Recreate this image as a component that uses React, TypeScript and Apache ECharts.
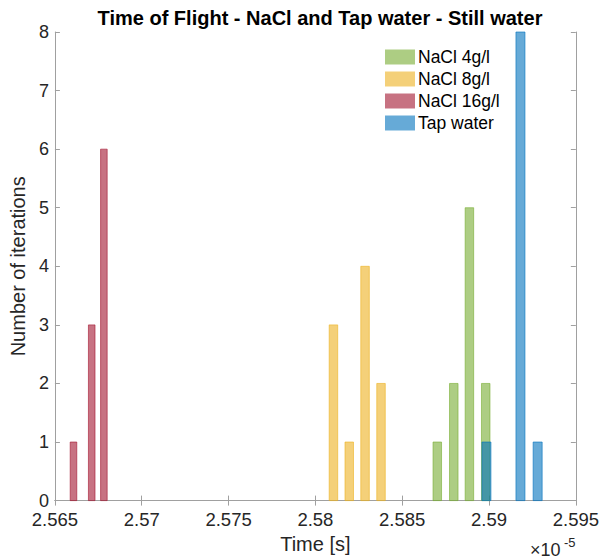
import React, { useEffect, useRef } from "react";
import * as echarts from "echarts";

// Time values are in units of 1e-5 s
const seriesNames = ["NaCl 4g/l", "NaCl 8g/l", "NaCl 16g/l", "Tap water"];
const nacl4Time = [2.58702, 2.58797, 2.58887, 2.58981];
const nacl4Count = [1, 2, 5, 2];
const nacl8Time = [2.58104, 2.58195, 2.58286, 2.58378];
const nacl8Count = [3, 1, 4, 2];
const nacl16Time = [2.56607, 2.56712, 2.56782];
const nacl16Count = [1, 3, 6];
const tapTime = [2.58985, 2.59181, 2.5928];
const tapCount = [1, 8, 1];

const baseColors = [
  [119, 172, 48],
  [237, 177, 32],
  [162, 20, 47],
  [0, 114, 189],
];
const barWidths = [0.00049, 0.00049, 0.00038, 0.00052];

const FONT = "'Liberation Sans', Arial, Helvetica, sans-serif";
const TXT = "#262626";
const AX = "#a0a0a0";

export default function App() {
  const ref = useRef<HTMLDivElement>(null);
  useEffect(() => {
    if (!ref.current) return;
    const chart = echarts.init(ref.current, null, { renderer: "svg" });
    const sets = [
      [nacl4Time, nacl4Count],
      [nacl8Time, nacl8Count],
      [nacl16Time, nacl16Count],
      [tapTime, tapCount],
    ];
    const series = sets.map(([t, c], i) => {
      const [r, g, b] = baseColors[i];
      const fill = `rgba(${r},${g},${b},0.6)`;
      const stroke = `rgba(${r},${g},${b},0.75)`;
      const w = barWidths[i];
      return {
        type: "custom",
        name: seriesNames[i],
        itemStyle: { color: fill },
        encode: { x: 0, y: 1 },
        data: t.map((x, k) => [x, c[k]]),
        renderItem: (params: any, api: any) => {
          const x = api.value(0);
          const y = api.value(1);
          const p0 = api.coord([x - w / 2, y]);
          const p1 = api.coord([x + w / 2, 0]);
          return {
            type: "rect",
            shape: { x: p0[0], y: p0[1], width: p1[0] - p0[0], height: p1[1] - p0[1] },
            style: { fill, stroke, lineWidth: 0.8 },
          };
        },
      };
    });
    const xCommon = {
      type: "value",
      min: 2.565,
      max: 2.595,
      interval: 0.005,
      axisLine: { show: true, lineStyle: { color: AX, width: 1 } },
      axisTick: { show: true, inside: true, length: 5, lineStyle: { color: AX } },
      splitLine: { show: false },
    };
    const yCommon = {
      type: "value",
      min: 0,
      max: 8,
      interval: 1,
      axisLine: { show: true, lineStyle: { color: AX, width: 1 } },
      axisTick: { show: true, inside: true, length: 5, lineStyle: { color: AX } },
      splitLine: { show: false },
    };
    chart.setOption({
      animation: false,
      title: {
        text: "Time of Flight - NaCl and Tap water - Still water",
        left: 315,
        textAlign: "center",
        top: 3,
        textStyle: { fontFamily: FONT, fontWeight: "bold", fontSize: 20, color: "#000" },
      },
      grid: { left: 51, right: 23, top: 32, bottom: 54, containLabel: false },
      legend: {
        orient: "vertical",
        left: 385,
        top: 48,
        padding: 0,
        icon: "rect",
        itemWidth: 30,
        itemHeight: 15,
        itemGap: 4,
        data: seriesNames,
        textStyle: { fontFamily: FONT, fontSize: 17.5, color: "#000", lineHeight: 18, padding: [0, 0, 0, -2] },
      },
      xAxis: [
        {
          ...xCommon,
          position: "bottom",
          name: "Time [s]",
          nameLocation: "middle",
          nameGap: 30,
          nameTextStyle: { fontFamily: FONT, fontSize: 20, color: TXT },
          axisLabel: {
            fontFamily: FONT,
            fontSize: 18.5,
            color: TXT,
            margin: 11,
            lineHeight: 16,
            formatter: (v: number) => String(parseFloat(v.toFixed(3))),
          },
        },
        { ...xCommon, position: "top", axisLabel: { show: false } },
      ],
      yAxis: [
        {
          ...yCommon,
          position: "left",
          name: "Number of iterations",
          nameLocation: "middle",
          nameGap: 19,
          nameTextStyle: { fontFamily: FONT, fontSize: 20, color: TXT },
          axisLabel: { fontFamily: FONT, fontSize: 18, color: TXT, margin: 6, lineHeight: 14 },
        },
        { ...yCommon, position: "right", axisLabel: { show: false } },
      ],
      graphic: [
        {
          type: "text",
          left: 530,
          top: 541,
          style: { text: "×10", fontFamily: FONT, fontSize: 18, fill: TXT },
        },
        {
          type: "text",
          left: 564,
          top: 536,
          style: { text: "-5", fontFamily: FONT, fontSize: 13, fill: TXT },
        },
      ],
      series,
    });
    return () => chart.dispose();
  }, []);
  return <div ref={ref} style={{ width: 602, height: 559, position: "absolute", left: 0, top: 0, background: "#fff" }} />;
}
